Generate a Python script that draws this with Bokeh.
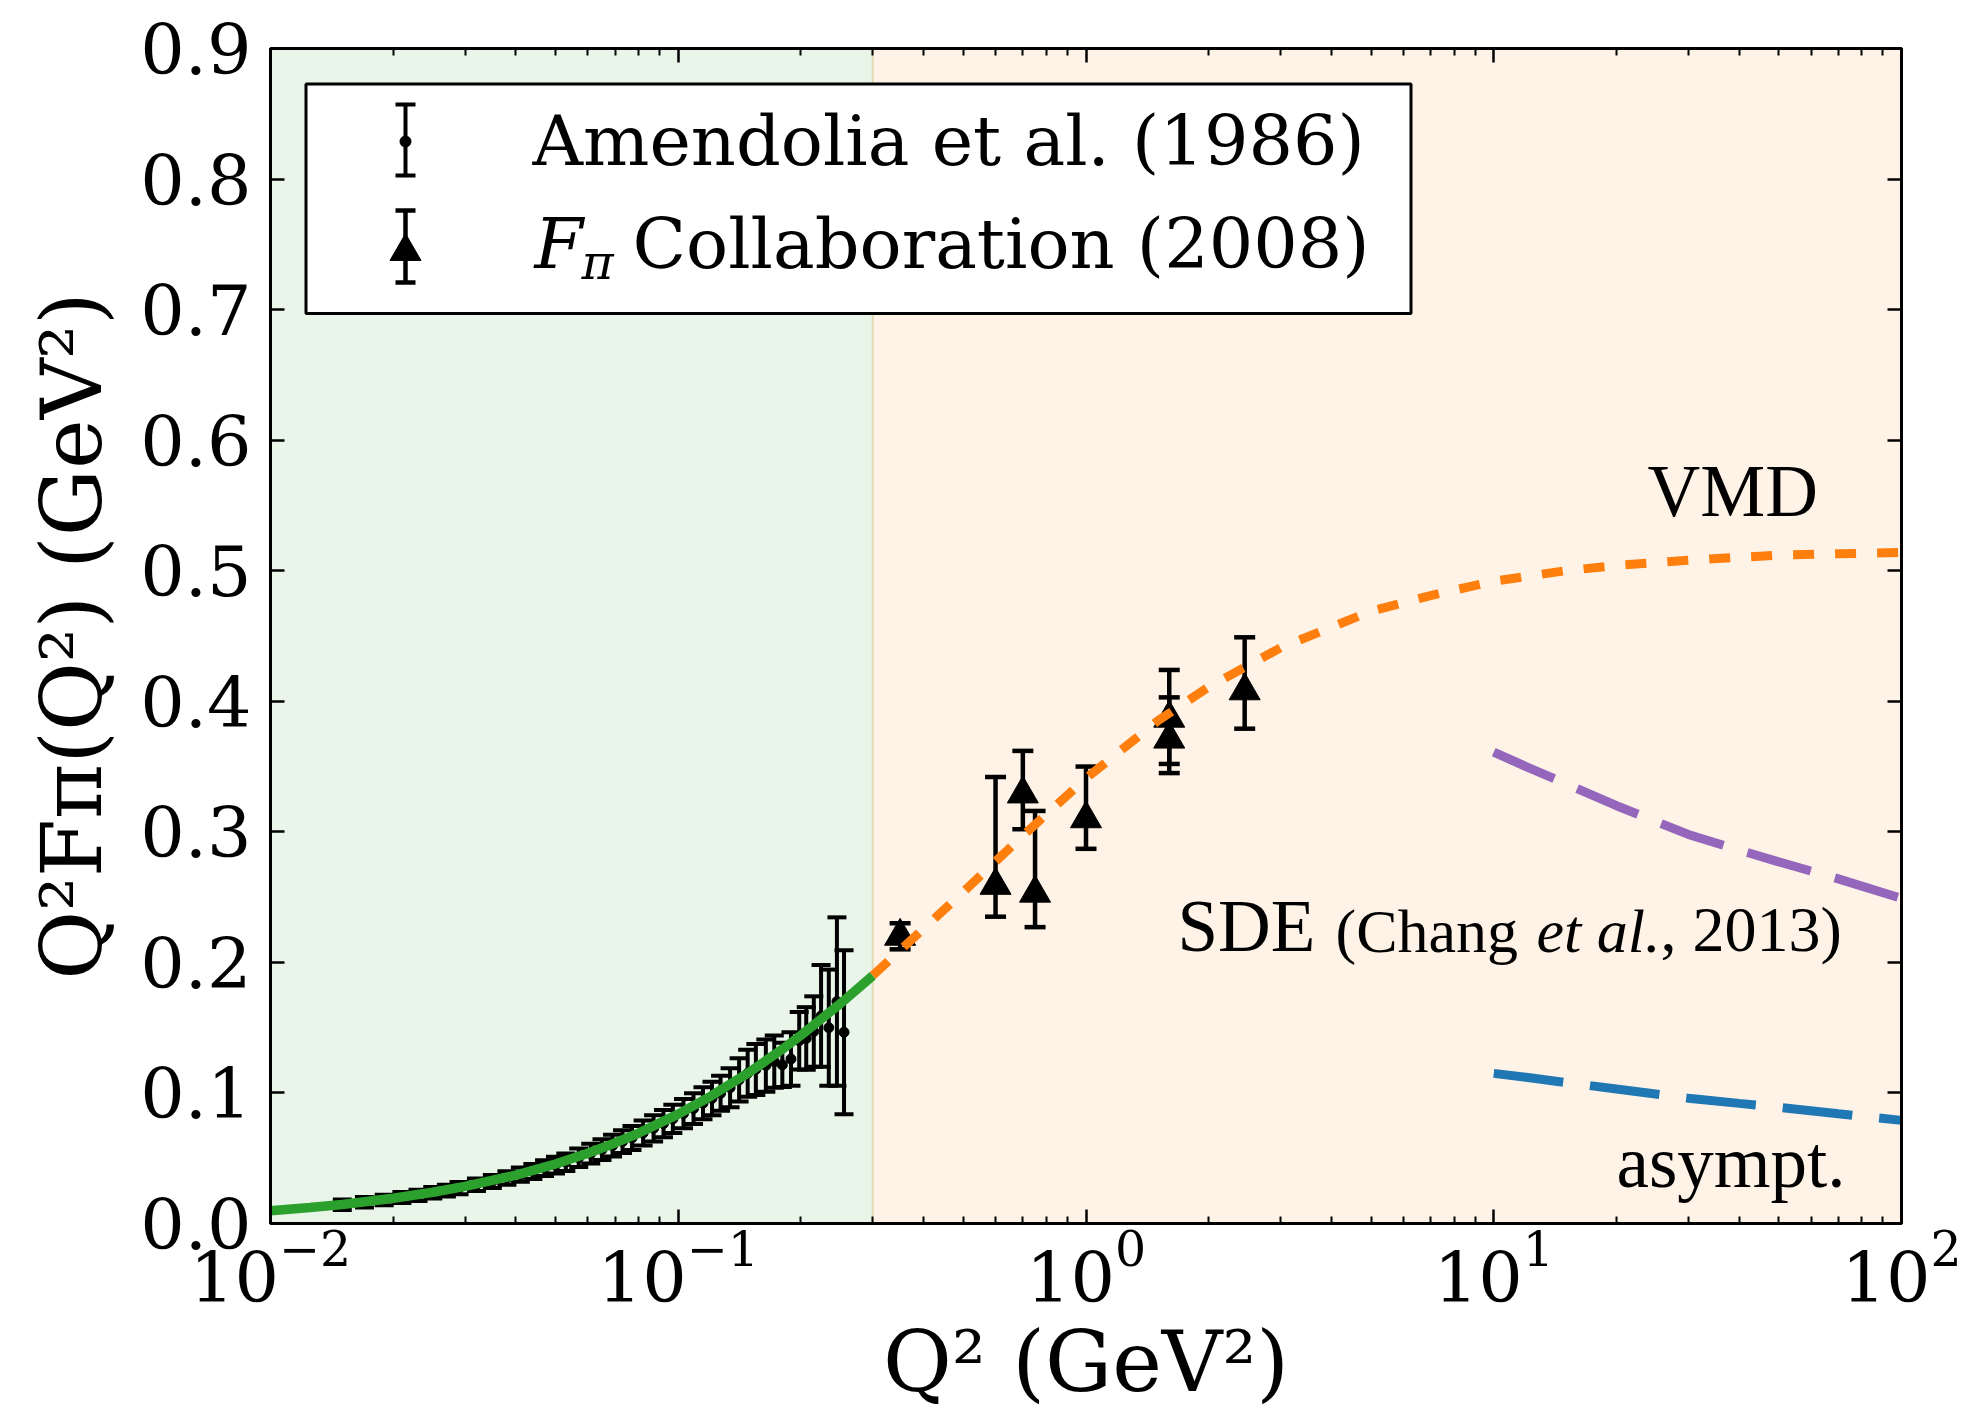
import numpy as np
from bokeh.plotting import figure
from bokeh.models import Range1d, FixedTicker, LogAxis, LinearAxis, Label, PrintfTickFormatter
from bokeh.embed import file_html
from bokeh.resources import INLINE

# ---------------- data ----------------
region_edges = [0.01, 0.3, 100.0]

green_q2 = [0.01, 0.0125, 0.015, 0.02, 0.025, 0.03, 0.04, 0.05, 0.06, 0.07, 0.08,
            0.1, 0.12, 0.15, 0.18, 0.2, 0.25, 0.3]
green_val = [0.0098, 0.0122, 0.0146, 0.0193, 0.0239, 0.0284, 0.0371, 0.0456, 0.0538,
             0.0617, 0.0693, 0.0838, 0.0974, 0.1163, 0.1335, 0.1442, 0.1685, 0.1898]

vmd_q2 = [0.3, 0.4, 0.5, 0.7, 1.0, 1.5, 2.0, 3.0, 5.0, 7.0, 10.0, 15.0, 20.0, 30.0,
          50.0, 70.0, 100.0]
vmd_val = [0.190, 0.226, 0.254, 0.297, 0.341, 0.385, 0.411, 0.441, 0.469, 0.481,
           0.492, 0.500, 0.504, 0.508, 0.512, 0.513, 0.514]

sde_q2 = [10.0, 12.0, 15.0, 20.0, 30.0, 40.0, 50.0, 70.0, 100.0]
sde_val = [0.361, 0.350, 0.337, 0.320, 0.298, 0.286, 0.277, 0.264, 0.249]

asy_q2 = [10.0, 12.0, 15.0, 20.0, 30.0, 40.0, 50.0, 70.0, 100.0]
asy_val = [0.115, 0.112, 0.108, 0.103, 0.096, 0.092, 0.089, 0.084, 0.079]

am_q2 = [0.015, 0.017, 0.019, 0.021, 0.023, 0.025, 0.027, 0.029,
         0.032, 0.035, 0.038, 0.041, 0.044, 0.047, 0.050, 0.053,
         0.057, 0.061, 0.065, 0.069, 0.073, 0.077,
         0.082, 0.087, 0.092, 0.097,
         0.103, 0.109, 0.115, 0.121, 0.127,
         0.134, 0.141, 0.148, 0.155,
         0.164, 0.172, 0.180, 0.189, 0.198, 0.206, 0.215, 0.224, 0.234, 0.245, 0.255]
am_val = [0.0144, 0.0163, 0.0180, 0.0199, 0.0216, 0.0236, 0.0252, 0.0271,
          0.0297, 0.0322, 0.0349, 0.0374, 0.0398, 0.0424, 0.0447, 0.0470,
          0.0503, 0.0535, 0.0566, 0.0596, 0.0627, 0.0655,
          0.0693, 0.0729, 0.0765, 0.0801,
          0.0842, 0.0880, 0.0921, 0.0958, 0.0997,
          0.1040, 0.1100, 0.1150, 0.1180,
          0.1210, 0.1240, 0.1215, 0.1260, 0.1400, 0.1417, 0.1470, 0.1590, 0.1500, 0.1700, 0.1465]
am_err = [0.0040, 0.0040, 0.0041, 0.0042, 0.0043, 0.0044, 0.0045, 0.0046,
          0.0048, 0.0050, 0.0052, 0.0055, 0.0058, 0.0061, 0.0064, 0.0067,
          0.0071, 0.0075, 0.0079, 0.0083, 0.0087, 0.0092,
          0.0096, 0.0100, 0.0104, 0.0108,
          0.0112, 0.0117, 0.0122, 0.0128, 0.0134,
          0.0150, 0.0165, 0.0180, 0.0195,
          0.0200, 0.0200, 0.0170, 0.0205, 0.0220, 0.0240, 0.0270, 0.0390, 0.0445, 0.0645, 0.0628]

fpi_q2 = [0.35, 0.60, 0.70, 0.75, 1.00, 1.60, 1.60, 2.45]
fpi_val = [0.220, 0.259, 0.329, 0.253, 0.310, 0.387, 0.371, 0.408]
fpi_lo = [0.210, 0.235, 0.302, 0.227, 0.287, 0.352, 0.345, 0.379]
fpi_hi = [0.230, 0.342, 0.362, 0.316, 0.350, 0.424, 0.403, 0.449]

y_ticks = [0.0, 0.1, 0.2, 0.3, 0.4, 0.5, 0.6, 0.7, 0.8, 0.9]
x_ticks = [0.01, 0.1, 1, 10, 100]
x_tick_labels = ["10⁻²", "10⁻¹", "10⁰", "10¹", "10²"]
x_minor = [m * d for d in [0.01, 0.1, 1.0, 10.0] for m in range(2, 10)]

x_label = "Q² (GeV²)"
y_label = "Q²Fπ(Q²) (GeV²)"

# ---------------- layout ----------------
W, H = 1971, 1417
FL, FR, FT, FB = 270, 1901, 48, 1223
XMIN, XMAX, YMIN, YMAX = 0.01, 100.0, 0.0, 0.9
DEC = (FR - FL) / 4.0

GREEN, ORANGE, PURPLE, BLUE = "#2ca02c", "#ff7f0e", "#9467bd", "#1f77b4"
SERIF = "DejaVu Serif"
TIMES = "Liberation Serif"


def px2x(cx):
    return 10 ** (np.log10(XMIN) + (cx - FL) / DEC)


def px2y(cy):
    return YMIN + (FB - cy) * (YMAX - YMIN) / (FB - FT)


p = figure(width=W, height=H, x_axis_type="log",
           x_range=Range1d(XMIN, XMAX), y_range=Range1d(YMIN, YMAX),
           output_backend="svg", toolbar_location=None,
           min_border_left=FL, min_border_right=W - FR,
           min_border_top=FT, min_border_bottom=H - FB)
p.background_fill_color = "white"
p.border_fill_color = "white"
p.outline_line_color = "black"
p.outline_line_width = 3
p.xgrid.visible = False
p.ygrid.visible = False

xticker = FixedTicker(ticks=x_ticks, minor_ticks=x_minor)
yticker = FixedTicker(ticks=y_ticks)
bottom = p.below[0]
left = p.left[0]
top = LogAxis(ticker=xticker)
right = LinearAxis(ticker=yticker)
p.add_layout(top, "above")
p.add_layout(right, "right")

for ax in (bottom, top):
    ax.ticker = xticker
    ax.minor_tick_in = 7
    ax.minor_tick_out = 0
    ax.minor_tick_line_width = 2
    ax.minor_tick_line_color = "black"
for ax in (left, right):
    ax.ticker = yticker
    ax.minor_tick_line_color = None
for ax in (bottom, top, left, right):
    ax.major_tick_in = 14
    ax.major_tick_out = 0
    ax.major_tick_line_width = 2.5
    ax.major_tick_line_color = "black"
    ax.axis_line_width = 3
    ax.axis_line_color = "black"
for ax in (top, right):
    ax.major_label_text_color = None
    ax.major_label_text_font_size = "1px"

left.formatter = PrintfTickFormatter(format="%.1f")
left.major_label_text_font = SERIF
left.major_label_text_font_size = "70px"
left.major_label_text_color = "black"
left.major_label_standoff = 19
left.axis_label = y_label
left.axis_label_text_font = SERIF
left.axis_label_text_font_size = "84px"
left.axis_label_text_font_style = "normal"
left.axis_label_text_color = "black"
left.axis_label_standoff = 16

bottom.major_label_overrides = {f"{t:g}": s for t, s in zip(x_ticks, x_tick_labels)}
bottom.major_label_text_font = SERIF
bottom.major_label_text_font_size = "70px"
bottom.major_label_text_color = "black"
bottom.major_label_standoff = 6
bottom.axis_label = x_label
bottom.axis_label_text_font = SERIF
bottom.axis_label_text_font_size = "84px"
bottom.axis_label_text_font_style = "normal"
bottom.axis_label_text_color = "black"
bottom.axis_label_standoff = 8

# background regions
p.quad(left=region_edges[0:1], right=region_edges[1:2], bottom=[YMIN], top=[YMAX],
       fill_color=GREEN, fill_alpha=0.1, line_color=GREEN, line_alpha=0.12, line_width=2)
p.quad(left=region_edges[1:2], right=region_edges[2:3], bottom=[YMIN], top=[YMAX],
       fill_color=ORANGE, fill_alpha=0.1, line_color=ORANGE, line_alpha=0.12, line_width=2)

# Amendolia error bars
am_lo = [v - e for v, e in zip(am_val, am_err)]
am_hi = [v + e for v, e in zip(am_val, am_err)]
fa = 10 ** (9.5 / DEC)
p.segment(x0=am_q2, y0=am_lo, x1=am_q2, y1=am_hi, line_color="black", line_width=4)
p.segment(x0=[q / fa for q in am_q2], y0=am_lo, x1=[q * fa for q in am_q2], y1=am_lo,
          line_color="black", line_width=4)
p.segment(x0=[q / fa for q in am_q2], y0=am_hi, x1=[q * fa for q in am_q2], y1=am_hi,
          line_color="black", line_width=4)
p.scatter(am_q2, am_val, marker="circle", size=10, color="black")

# F_pi collaboration
ff = 10 ** (10.5 / DEC)
p.segment(x0=fpi_q2, y0=fpi_lo, x1=fpi_q2, y1=fpi_hi, line_color="black", line_width=4.5)
p.segment(x0=[q / ff for q in fpi_q2], y0=fpi_lo, x1=[q * ff for q in fpi_q2], y1=fpi_lo,
          line_color="black", line_width=4.5)
p.segment(x0=[q / ff for q in fpi_q2], y0=fpi_hi, x1=[q * ff for q in fpi_q2], y1=fpi_hi,
          line_color="black", line_width=4.5)
p.scatter(fpi_q2, fpi_val, marker="triangle", size=31, color="black")

# curves
p.line(green_q2, green_val, line_color=GREEN, line_width=9.5)
p.line(vmd_q2, vmd_val, line_color=ORANGE, line_width=9, line_dash="21 21")
p.line(sde_q2, sde_val, line_color=PURPLE, line_width=9, line_dash="66 25")
p.line(asy_q2, asy_val, line_color=BLUE, line_width=9, line_dash="70 27")

# legend box (manual)
p.quad(left=[px2x(305.5)], right=[px2x(1410.5)], top=[px2y(83.5)], bottom=[px2y(313)],
       fill_color="white", line_color="black", line_width=3)
gx = px2x(405)
gx0, gx1 = px2x(395), px2x(415)
p.segment(x0=[gx, gx0, gx0], y0=[px2y(104), px2y(104), px2y(175)],
          x1=[gx, gx1, gx1], y1=[px2y(175), px2y(104), px2y(175)],
          line_color="black", line_width=4)
p.scatter([gx], [px2y(141)], marker="circle", size=11, color="black")
p.segment(x0=[gx, gx0, gx0], y0=[px2y(210), px2y(210), px2y(282)],
          x1=[gx, gx1, gx1], y1=[px2y(282), px2y(210), px2y(282)],
          line_color="black", line_width=4.5)
p.scatter([gx], [px2y(251)], marker="triangle", size=31, color="black")

# baseline compensation (label anchor is rendered at the text's vertical middle)
KDV = 0.347
KLS = 0.338


def lab(text, cx, cy, size, font=SERIF, style="normal", align="left"):
    k = KDV if font == SERIF else KLS
    p.add_layout(Label(x=cx - FL, y=FB - (cy - k * size), x_units="screen", y_units="screen",
                       text=text, text_font=font, text_font_size=f"{size}px",
                       text_font_style=style, text_color="black",
                       text_align=align, text_baseline="alphabetic"))


# legend texts
lab("Amendolia et al. (1986)", 532, 165, 70)
lab("F", 534, 268, 70, style="italic")
lab("π", 581, 279, 49, style="italic")
lab("Collaboration (2008)", 632, 268, 70)

# curve annotations
lab("VMD", 1647, 516, 73, font=TIMES)
lab("SDE", 1177, 951, 73, font=TIMES)
lab("(Chang", 1335, 951, 62, font=TIMES)
lab("et al.", 1536, 951, 62, font=TIMES, style="italic")
lab(", 2013)", 1660, 951, 64, font=TIMES)
lab("asympt.", 1616, 1187, 73, font=TIMES)

open("out.html", "w").write(file_html(p, INLINE))
